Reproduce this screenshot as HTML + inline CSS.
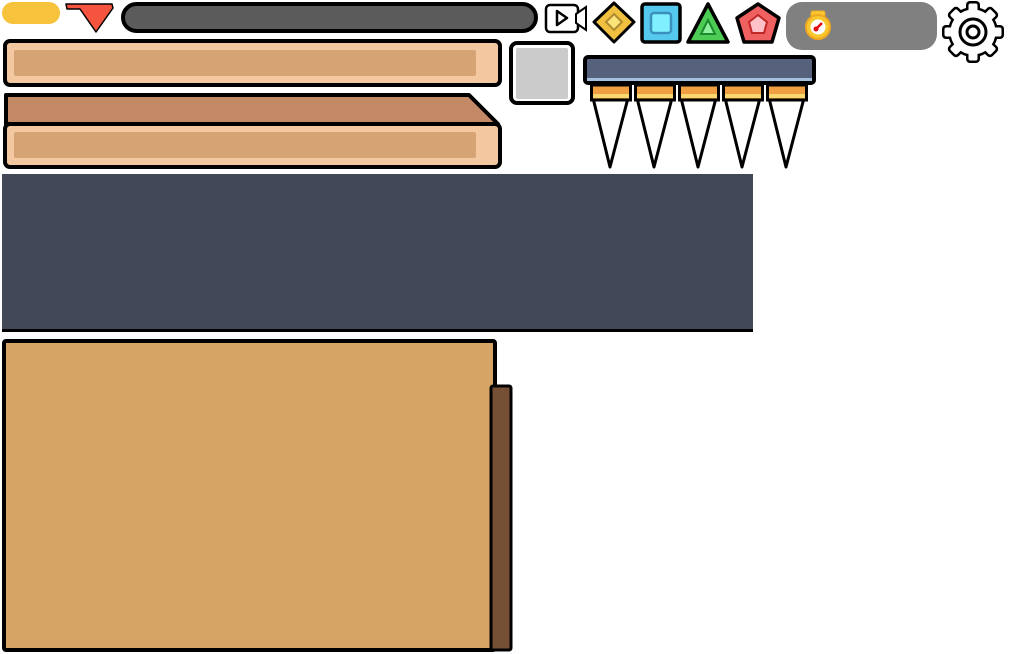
<!DOCTYPE html>
<html><head><meta charset="utf-8"><style>html,body{margin:0;padding:0;background:#fff;width:1009px;height:654px;overflow:hidden}</style></head>
<body>
<svg width="1009" height="654" viewBox="0 0 1009 654" xmlns="http://www.w3.org/2000/svg">
<rect x="2" y="2" width="58" height="22" rx="11" fill="#f7c23c"/>
<path d="M66,4 L112,4 L113,8 L96,32 L80,9 L67,9 Z" fill="#f5543e" stroke="#000" stroke-width="1.5" stroke-linejoin="round"/>
<rect x="123" y="4" width="413" height="27" rx="13.5" fill="#5b5b5b" stroke="#000" stroke-width="4"/>
<rect x="5" y="41" width="495" height="44" rx="5" fill="#f3c7a0" stroke="#000" stroke-width="4"/>
<rect x="14" y="50" width="462" height="26" rx="2" fill="#d6a374"/>
<path d="M6,95 L469,95 L498,124 L6,124 Z" fill="#c38965" stroke="#000" stroke-width="4" stroke-linejoin="round"/>
<rect x="5" y="124" width="495" height="43" rx="5" fill="#f3c7a0" stroke="#000" stroke-width="4"/>
<rect x="14" y="132" width="462" height="26" rx="2" fill="#d6a374"/>
<rect x="511" y="43" width="62" height="60" rx="6" fill="#fff" stroke="#000" stroke-width="4"/>
<rect x="516" y="48" width="52" height="51" rx="2" fill="#cbcbcb"/>
<rect x="2" y="174" width="751" height="156" fill="#434859"/>
<rect x="2" y="329" width="751" height="3" fill="#000"/>
<rect x="4" y="341" width="491" height="309" rx="2" fill="#d6a566" stroke="#000" stroke-width="4"/>
<rect x="491" y="386" width="20" height="264" rx="2" fill="#765034" stroke="#000" stroke-width="3"/>
<rect x="546" y="5" width="32" height="27" rx="4" fill="#fff" stroke="#000" stroke-width="2.5"/>
<path d="M576,14 L586,7 L586,30 L576,23 Z" fill="#fff" stroke="#000" stroke-width="2"/>
<path d="M557,11 L567,18 L557,25 Z" fill="none" stroke="#000" stroke-width="2.5" stroke-linejoin="round"/>
<path d="M614,3 L634,22 L614,42 L594,22 Z" fill="#f0c040" stroke="#000" stroke-width="3" stroke-linejoin="round"/>
<path d="M614,14 L622,22 L614,30 L606,22 Z" fill="#fbe57a" stroke="#b08a30" stroke-width="2"/>
<rect x="642" y="4" width="38" height="38" rx="3" fill="#55c8ee" stroke="#000" stroke-width="3.5"/>
<rect x="651" y="13" width="20" height="20" rx="3" fill="#7ef0ff" stroke="#3a8fbd" stroke-width="2.5"/>
<path d="M708,4 L728,42 L688,42 Z" fill="#4ccc55" stroke="#000" stroke-width="3.5" stroke-linejoin="round"/>
<path d="M708,20 L715,34 L701,34 Z" fill="#8ff0a0" stroke="#1a8a2a" stroke-width="2"/>
<path d="M758,4 L779,18 L772,42 L744,42 L737,18 Z" fill="#ef6060" stroke="#000" stroke-width="3.5" stroke-linejoin="round"/>
<path d="M758,15 L767,22 L764,33 L752,33 L749,22 Z" fill="#ffc0c8" stroke="#c02828" stroke-width="2"/>
<rect x="786" y="2" width="151" height="48" rx="16" fill="#808080"/>
<rect x="811" y="11" width="14" height="6" rx="2" fill="#f9c830" stroke="#f0a820" stroke-width="1"/>
<circle cx="818" cy="27" r="12" fill="#f9c830" stroke="#f0a820" stroke-width="2"/>
<circle cx="818" cy="27" r="7.5" fill="#fff"/>
<path d="M815,30 L822,23" stroke="#e01010" stroke-width="2.5"/>
<circle cx="816" cy="29" r="2.5" fill="#e01010"/>
<g transform="translate(973,32)">
<g fill="#000">
<circle r="25"/>
<rect x="-7" y="-31" width="14" height="12" rx="4"/>
<rect x="-7" y="-31" width="14" height="12" rx="4" transform="rotate(45)"/>
<rect x="-7" y="-31" width="14" height="12" rx="4" transform="rotate(90)"/>
<rect x="-7" y="-31" width="14" height="12" rx="4" transform="rotate(135)"/>
<rect x="-7" y="-31" width="14" height="12" rx="4" transform="rotate(180)"/>
<rect x="-7" y="-31" width="14" height="12" rx="4" transform="rotate(225)"/>
<rect x="-7" y="-31" width="14" height="12" rx="4" transform="rotate(270)"/>
<rect x="-7" y="-31" width="14" height="12" rx="4" transform="rotate(315)"/>
</g>
<g fill="#fff">
<circle r="22.5"/>
<rect x="-4.5" y="-28.5" width="9" height="10" rx="2"/>
<rect x="-4.5" y="-28.5" width="9" height="10" rx="2" transform="rotate(45)"/>
<rect x="-4.5" y="-28.5" width="9" height="10" rx="2" transform="rotate(90)"/>
<rect x="-4.5" y="-28.5" width="9" height="10" rx="2" transform="rotate(135)"/>
<rect x="-4.5" y="-28.5" width="9" height="10" rx="2" transform="rotate(180)"/>
<rect x="-4.5" y="-28.5" width="9" height="10" rx="2" transform="rotate(225)"/>
<rect x="-4.5" y="-28.5" width="9" height="10" rx="2" transform="rotate(270)"/>
<rect x="-4.5" y="-28.5" width="9" height="10" rx="2" transform="rotate(315)"/>
</g>
<circle r="13" fill="none" stroke="#000" stroke-width="3"/>
<circle r="6" fill="none" stroke="#000" stroke-width="3"/>
</g>
<rect x="585" y="57" width="229" height="26" rx="3" fill="#56617b" stroke="#000" stroke-width="4"/>
<rect x="587" y="78" width="225" height="3" fill="#a6c0e0"/>
<g id="sp">
<path d="M593.5,100 L610,167 L627.5,100" fill="#fff" stroke="#000" stroke-width="3" stroke-linejoin="round"/>
<rect x="591.5" y="85" width="39" height="15" fill="#f0a040" stroke="#000" stroke-width="3"/>
<rect x="593" y="94" width="36" height="4" fill="#fcd870"/>
</g>
<use href="#sp" x="44"/>
<use href="#sp" x="88"/>
<use href="#sp" x="132"/>
<use href="#sp" x="176"/>
</svg>
</body></html>
